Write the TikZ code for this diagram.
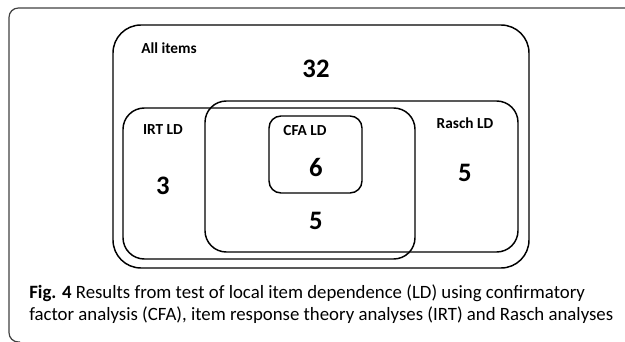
\documentclass[tikz,border=0pt]{standalone}
\usepackage{fontspec}
\setmainfont{Carlito}
\usepackage{tikz}
\usetikzlibrary{positioning}

\tikzset{
    setbox/.style={draw, line width=1.1pt, rounded corners=#1},
    setname/.style={font=\fontsize{11.5}{13}\selectfont\bfseries, inner sep=0pt},
    setcount/.style={font=\fontsize{20}{24}\selectfont\bfseries, inner sep=0pt}
}

\begin{document}
\begin{tikzpicture}[x=0.75pt, y=-0.75pt]
\useasboundingbox (0,0) rectangle (625,342);

% frame round the figure and its caption
\draw[black!75, line width=0.9pt, rounded corners=7pt] (625,8) -- (9,8) -- (9,342) -- (20,342);

% the four sets
\draw[setbox=21pt] (113,25) rectangle (529,268);
\draw[setbox=16pt] (123,108) rectangle (415,259);
\draw[setbox=16pt] (205,101) rectangle (518,252);
\draw[setbox=9pt] (269,116) rectangle (362,193);

% set names
\node[setname] (allitems) at (169,48) {All items};
\node[setname] (irtld) at (163,130) {IRT LD};
\node[setname] (cfald) at (305,131) {CFA LD};
\node[setname] (raschld) at (465,123) {Rasch LD};

% counts
\node[setcount] (nall) at (316,69) {32};
\node[setcount] (nirt) at (163,186) {3};
\node[setcount] (ncfa) at (316,167) {6};
\node[setcount] (nboth) at (316,221) {5};
\node[setcount] (nrasch) at (465,173) {5};

% caption
\node[anchor=north west, inner sep=0pt, align=left,
      font=\fontsize{14.1}{16.5}\selectfont] (caption) at (29,284)
    {\textbf{Fig. 4} Results from test of local item dependence (LD) using confirmatory\\
     factor analysis (CFA), item response theory analyses (IRT) and Rasch analyses};
\end{tikzpicture}
\end{document}
